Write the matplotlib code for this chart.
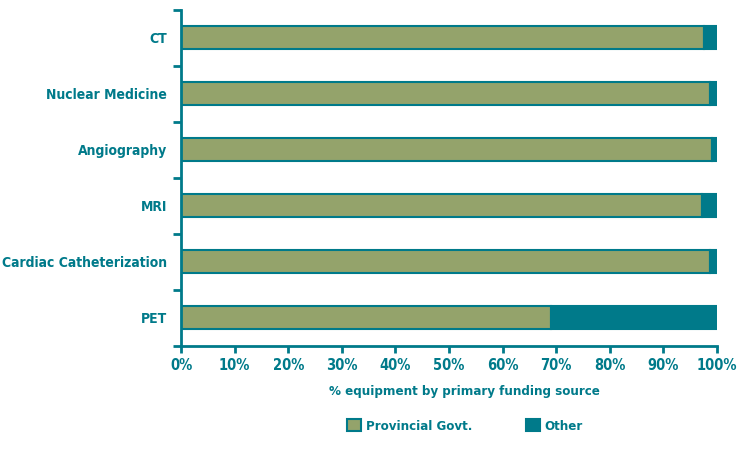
import matplotlib.pyplot as plt
import numpy as np
from matplotlib.patches import Patch

categories = ['CT', 'Nuclear Medicine', 'Angiography', 'MRI', 'Cardiac Catheterization', 'PET']
provincial = [97.5, 98.7, 99.1, 97.2, 98.7, 69.0]
other = [100 - v for v in provincial]

teal = '#007A8A'
green = '#94A36B'

plt.rcParams['font.family'] = ['Liberation Sans Narrow', 'DejaVu Sans']
plt.rcParams['font.stretch'] = 'condensed'
plt.rcParams['font.weight'] = 'bold'
plt.rcParams['axes.labelweight'] = 'bold'

fig = plt.figure(figsize=(7.48, 4.51), dpi=100)
ax = fig.add_axes([0.242, 0.233, 0.7166, 0.745])

y = np.arange(len(categories))[::-1]
h = 0.41
ax.barh(y, provincial, height=h, color=green, edgecolor=teal, linewidth=1.5)
ax.barh(y, other, left=provincial, height=h, color=teal, edgecolor=teal, linewidth=1.5)

ax.set_xlim(0, 100)
ax.set_ylim(-0.5, len(categories) - 0.5)
for s in ['top', 'right']:
    ax.spines[s].set_visible(False)
for s in ['left', 'bottom']:
    ax.spines[s].set_color(teal)
    ax.spines[s].set_linewidth(2)

ax.set_xticks(np.arange(0, 101, 10))
ax.set_xticklabels([f'{v}%' for v in range(0, 101, 10)], fontsize=10.5, color=teal)
ax.tick_params(axis='x', direction='out', length=5, width=2, color=teal, pad=4)

ax.set_yticks(y)
ax.set_yticklabels(categories, fontsize=10, color=teal)
ax.tick_params(axis='y', which='major', length=0, pad=10)
ax.set_yticks(np.arange(len(categories) + 1) - 0.5, minor=True)
ax.tick_params(axis='y', which='minor', direction='out', length=6, width=2, color=teal)

ax.set_xlabel('% equipment by primary funding source', fontsize=9.5, color=teal)
ax.xaxis.set_label_coords((464 - 181) / 536, -0.115)

handles = [Patch(facecolor=green, edgecolor=teal, linewidth=1.5),
           Patch(facecolor=teal, edgecolor=teal, linewidth=1.5)]
fig.legend(handles, ['Provincial Govt.', 'Other'], loc='center', bbox_to_anchor=(0.622, 0.055),
           ncol=2, frameon=False, fontsize=9.5, labelcolor=teal, handlelength=1.0, handleheight=1.0,
           handletextpad=0.4, columnspacing=4.1)

fig.savefig('out.png', dpi=100)
